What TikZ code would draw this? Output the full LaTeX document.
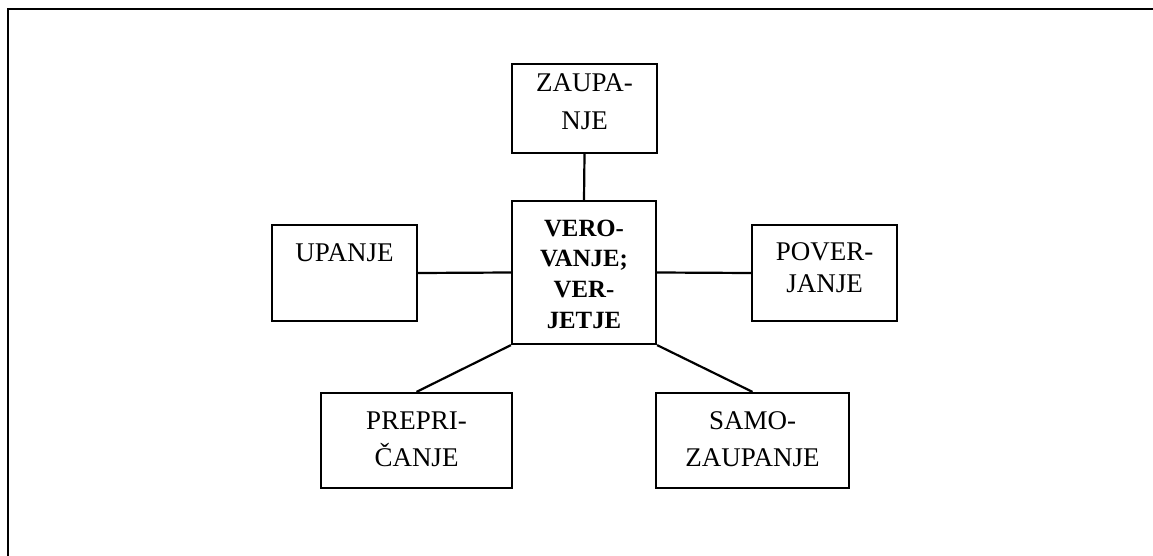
\documentclass[tikz,border=0pt]{standalone}
\usepackage{fontspec}
\setmainfont{Liberation Serif}
\begin{document}
\begin{tikzpicture}[x=1pt,y=-1pt,
  box/.style={draw=black,line width=2.2pt,rectangle,inner sep=0pt},
  txt/.style={anchor=base,inner sep=0pt,font=\fontsize{27}{38}\selectfont},
  btxt/.style={anchor=base,inner sep=0pt,font=\fontsize{24.8}{31}\selectfont\bfseries},
  conn/.style={line width=2.2pt}]
\useasboundingbox (0,0) rectangle (1153,556);
% outer frame (top and left edges only)
\coordinate (fbl) at (8,556);
\coordinate (ftl) at (8,9);
\coordinate (ftr) at (1153,9);
\draw[line width=2.6pt] (fbl) -- (ftl) -- (ftr);
% boxes
\node[box,minimum width=145pt,minimum height=89pt] (Z) at (584.5,108.5) {};
\node[box,minimum width=144pt,minimum height=143pt] (C) at (584,272.5) {};
\node[box,minimum width=145pt,minimum height=96pt] (U) at (344.5,273) {};
\node[box,minimum width=145pt,minimum height=96pt] (P) at (824.5,273) {};
\node[box,minimum width=191pt,minimum height=95pt] (PR) at (416.5,440.5) {};
\node[box,minimum width=193pt,minimum height=95pt] (S) at (752.5,440.5) {};
% texts
\node[txt] (z1) at (584.5,92) {ZAUPA-};
\node[txt] (z2) at (584.5,130) {NJE};
\node[btxt] (c1) at (584,236) {VERO-};
\node[btxt] (c2) at (584,266) {VANJE;};
\node[btxt] (c3) at (584,297) {VER-};
\node[btxt] (c4) at (584,328) {JETJE};
\node[txt] (u1) at (344.5,261) {UPANJE};
\node[txt] (p1) at (824.5,260) {POVER-};
\node[txt] (p2) at (824.5,292) {JANJE};
\node[txt] (r1) at (416.5,429) {PREPRI-};
\node[txt] (r2) at (416.5,466) {ČANJE};
\node[txt] (s1) at (752.5,429) {SAMO-};
\node[txt] (s2) at (752.5,466) {ZAUPANJE};
% connectors
\draw[conn] (Z.south) -- (C.north);
\draw[conn] (U.east) -- (C.west);
\draw[conn] (C.east) -- (P.west);
\draw[conn] (C.south west) -- (PR.north);
\draw[conn] (C.south east) -- (S.north);
\end{tikzpicture}
\end{document}
